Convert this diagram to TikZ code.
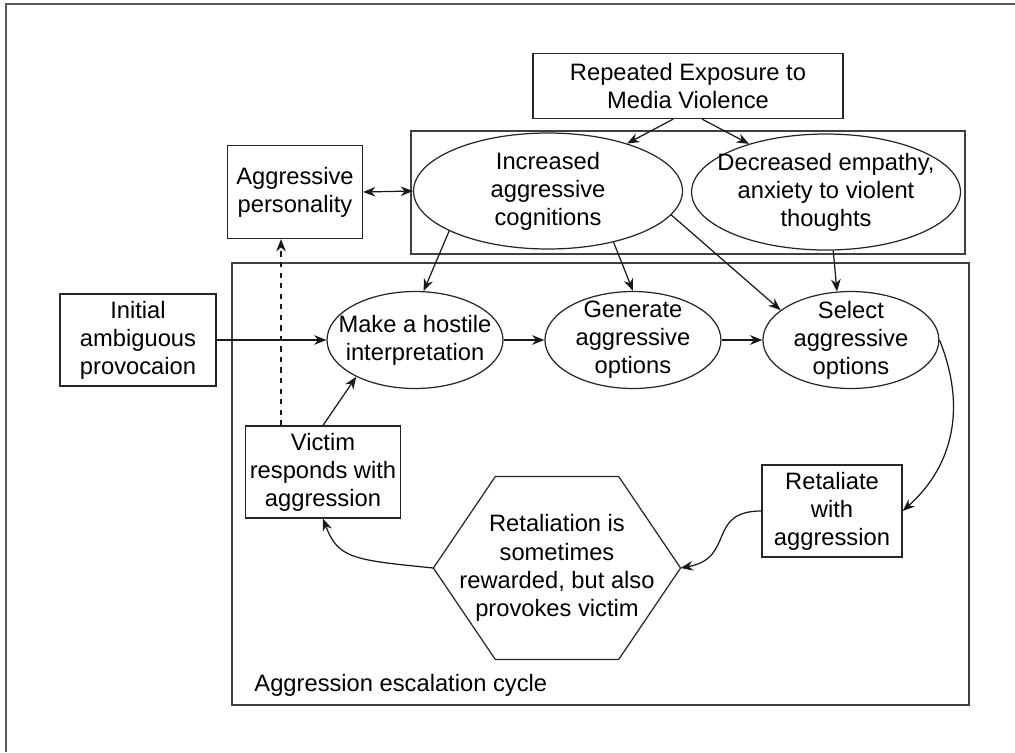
\documentclass[tikz,border=0pt]{standalone}
\usepackage{fontspec}
\setmainfont{Liberation Sans}
\usetikzlibrary{shapes.geometric, arrows.meta, calc}

\begin{document}
\begin{tikzpicture}
[x=0.02cm, y=-0.02cm, node distance=4.36cm, font=\fontsize{13.5pt}{16pt}\selectfont,
 >={Stealth[length=7pt, width=5.5pt]}, line width=0.7pt]
\tikzstyle{box}=[rectangle, draw=black!85, align=center, inner sep=1pt, minimum height=1.84cm]
\tikzstyle{oval}=[ellipse, draw=black!85, align=center, inner xsep=-0.4cm, inner ysep=-0.45cm,
                  minimum width=3.52cm, minimum height=1.94cm]
\tikzstyle{bigoval}=[oval, minimum width=5.38cm, minimum height=2.32cm]
\tikzstyle{hexa}=[rectangle, align=center, inner sep=0pt, minimum width=4.92cm, minimum height=3.64cm]
\tikzstyle{frame}=[draw=black!75, line width=0.9pt]
\tikzstyle{link}=[->, draw=black!90]
\useasboundingbox (0,0) rectangle (1015,752);
\draw[frame, draw=black!65] (6,752) -- (6,4) -- (1015,4);

% media exposure and its effects
\node[box, minimum width=6.2cm, minimum height=1.3cm] (MV) at (688,86) {Repeated Exposure to\\Media Violence};
\draw[frame] (411,131) rectangle (965,254);
\node[bigoval] (IAC) at (548,191) {Increased\\aggressive\\cognitions};
\node[bigoval] (DE)  at (826,192) {Decreased empathy,\\anxiety to violent\\thoughts};
\node[box, minimum width=2.7cm, minimum height=1.86cm] (AP) at (295,192) {Aggressive\\personality};

% escalation cycle
\draw[frame] (232,263) rectangle (969,705);
\node[anchor=west] (CYC) at (248,685) {Aggression escalation cycle};
\node[box, minimum width=3.12cm] (IAP) at (138,340) {Initial\\ambiguous\\provocaion};
\node[oval] (MHI) at (415,340) {Make a hostile\\interpretation};
\node[oval] (GAO) [right of=MHI] {Generate\\aggressive\\options};
\node[oval] (SAO) [right of=GAO] {Select\\aggressive\\options};
\node[box, minimum width=2.8cm]  (RWA) at (832,511) {Retaliate\\with\\aggression};
\node[hexa] (RSR) at (557,568) {Retaliation is\\sometimes\\rewarded, but also\\provokes victim};
\draw[draw=black!85] (RSR.west) -- ($(RSR.north west)+(62,0)$) -- ($(RSR.north east)+(-62,0)$)
  -- (RSR.east) -- ($(RSR.south east)+(-62,0)$) -- ($(RSR.south west)+(62,0)$) -- cycle;
\node[box, minimum width=3.1cm]  (VRA) at (323,472) {Victim\\responds with\\aggression};
\coordinate (VD) at ($(VRA.north)+(-42,0)$);

\draw[link] (MV.-114) -- (IAC.31);
\draw[link] (MV.-67) -- (DE.148);
\draw[<->, draw=black!90] (AP.east) -- (IAC.west);
\draw[link] (IAC.-158) -- (MHI.80);
\draw[link] (IAC.-38) -- (GAO.north);
\draw[link] (IAC.-11) -- (SAO.157);
\draw[link] (DE.-83) -- (SAO.106);
\draw[link] (IAP.east) -- (MHI.west);
\draw[link] (MHI.east) -- (GAO.west);
\draw[link] (GAO.east) -- (SAO.west);
\draw[link] (SAO.east) .. controls +(30,75) and +(45,-40) .. (RWA.east);
\draw[link] (RWA.west) .. controls +(-55,0) and +(55,-10) .. (RSR.east);
\draw[link] (RSR.west) .. controls +(-80,-8) and +(15,40) .. (VRA.south);
\draw[link] (VRA.north) -- (MHI.-148);
\draw[link, dashed] (VD) -- (VD |- AP.south);
\end{tikzpicture}
\end{document}
